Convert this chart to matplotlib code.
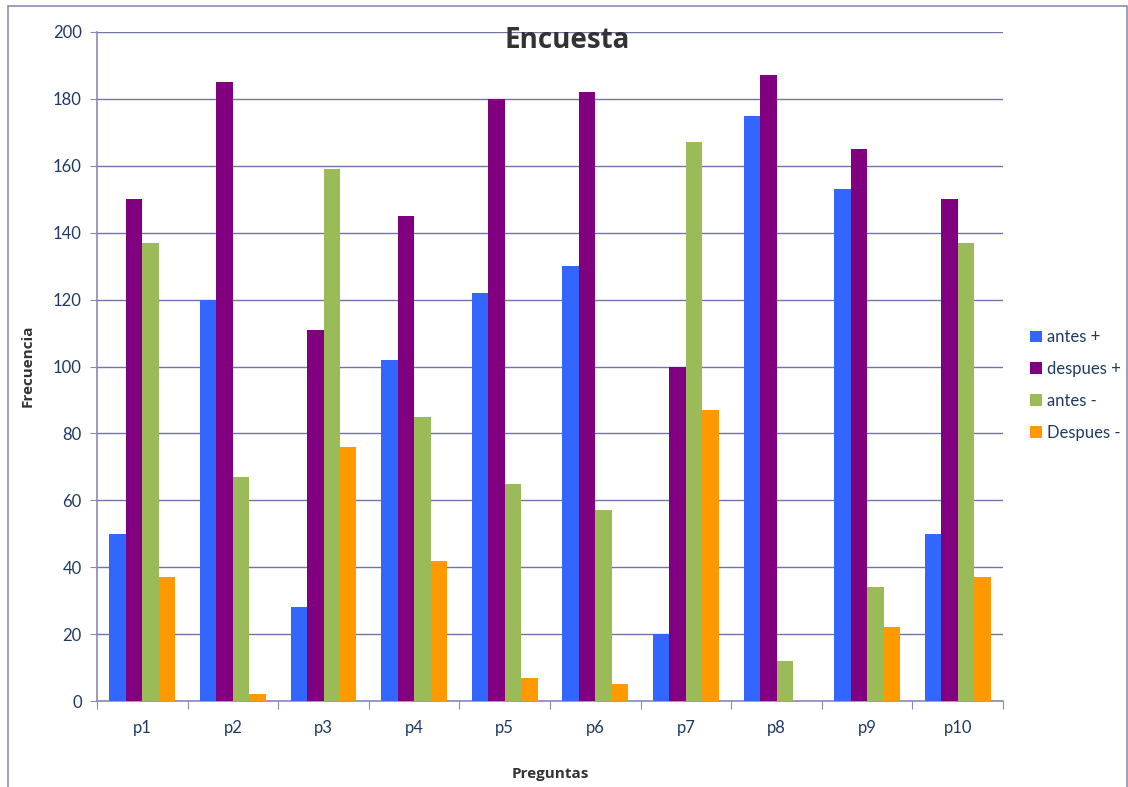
import numpy as np
import matplotlib
matplotlib.use('Agg')
import matplotlib.pyplot as plt
from matplotlib.patches import Rectangle

plt.rcParams['font.family'] = ['Lato', 'DejaVu Sans']

# Survey data: answers before/after for each question
preguntas = ['p1', 'p2', 'p3', 'p4', 'p5', 'p6', 'p7', 'p8', 'p9', 'p10']
antes_pos = [50, 120, 28, 102, 122, 130, 20, 175, 153, 50]
despues_pos = [150, 185, 111, 145, 180, 182, 100, 187, 165, 150]
antes_neg = [137, 67, 159, 85, 65, 57, 167, 12, 34, 137]
despues_neg = [37, 2, 76, 42, 7, 5, 87, 0, 22, 37]
series_names = ['antes +', 'despues +', 'antes -', 'Despues -']
y_ticks = [0, 20, 40, 60, 80, 100, 120, 140, 160, 180, 200]

colors = ['#3366FF', '#800080', '#9BBB59', '#FF9900']
grid_c = '#7373A8'
axis_c = '#8A8AB8'
label_c = '#1F3B63'
title_font = ['Open Sans', 'DejaVu Sans']

W, H = 1128, 787
fig = plt.figure(figsize=(W / 100, H / 100), dpi=100)
fig.patch.set_facecolor('white')

# outer chart frame
fig.add_artist(Rectangle((8 / W, -0.01), 1119 / W, 1 - 6 / H + 0.01,
                         transform=fig.transFigure, fill=False,
                         edgecolor='#8C8CB4', linewidth=1.2))

ax = fig.add_axes([97 / W, 1 - 701 / H, 906 / W, 669 / H])

x = np.arange(len(preguntas))
width = 1 / 5.5
for i, (vals, name) in enumerate(zip([antes_pos, despues_pos, antes_neg, despues_neg], series_names)):
    ax.bar(x + (i - 1.5) * width, vals, width, color=colors[i], label=name, zorder=3)

ax.set_xlim(-0.5, len(preguntas) - 0.5)
ax.set_ylim(0, 200)
ax.set_yticks(y_ticks)
ax.yaxis.grid(True, color=grid_c, linewidth=1.0, zorder=0)
ax.set_axisbelow(True)

ax.set_xticks(np.arange(-0.5, len(preguntas), 1))
ax.set_xticklabels([])
ax.set_xticks(x, minor=True)
ax.set_xticklabels(preguntas, minor=True)
ax.tick_params(axis='x', which='major', length=6, color=axis_c, direction='out')
ax.tick_params(axis='x', which='minor', length=0, pad=14, labelsize=12, labelcolor=label_c)
ax.tick_params(axis='y', length=5, color=axis_c, direction='out', pad=6,
               labelsize=12, labelcolor=label_c)

for s in ['top', 'right']:
    ax.spines[s].set_visible(False)
for s in ['left', 'bottom']:
    ax.spines[s].set_color(axis_c)
    ax.spines[s].set_linewidth(1.2)

fig.text(567 / W, 1 - 41 / H, 'Encuesta', ha='center', va='center', family=title_font,
         fontsize=20, fontweight='bold', color='#333333')
fig.text(28 / W, 1 - 366 / H, 'Frecuencia', ha='center', va='center', family=title_font,
         rotation=90, fontsize=11, fontweight='bold', color='#333333')
fig.text(550 / W, 1 - 774 / H, 'Preguntas', ha='center', va='center', family=title_font,
         fontsize=11, fontweight='bold', color='#333333')

leg = ax.legend(loc='center left', bbox_to_anchor=(1022 / W, 1 - 385 / H),
                bbox_transform=fig.transFigure, frameon=False, fontsize=12,
                handlelength=0.7, handleheight=0.7, handletextpad=0.3,
                labelspacing=0.95, borderpad=0)
for t in leg.get_texts():
    t.set_color(label_c)

fig.savefig('out.png', dpi=100)
